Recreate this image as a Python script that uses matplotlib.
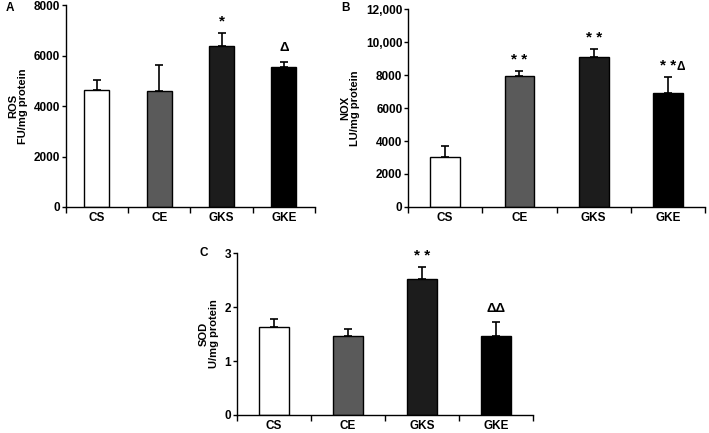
import numpy as np
import matplotlib.pyplot as plt
from matplotlib.ticker import FuncFormatter

plt.rcParams['font.family'] = ['Liberation Sans', 'DejaVu Sans']
plt.rcParams['font.weight'] = 'bold'

# data
groups = ['CS', 'CE', 'GKS', 'GKE']
colors = ['#ffffff', '#5a5a5a', '#1c1c1c', '#000000']

ros_mean = [4650, 4600, 6390, 5550]
ros_err = [400, 1020, 510, 185]
ros_stars = ['', '', '*', '']
ros_delta = ['', '', '', 'Δ']

nox_mean = [3040, 7920, 9120, 6890]
nox_err = [650, 340, 490, 970]
nox_stars = ['', '**', '**', '**']
nox_delta = ['', '', '', 'Δ']

sod_mean = [1.63, 1.46, 2.51, 1.46]
sod_err = [0.15, 0.13, 0.24, 0.27]
sod_stars = ['', '', '**', '']
sod_delta = ['', '', '', 'ΔΔ']


def draw_panel(ax, mean, err, stars, deltas, ymax, yticks, ylabel, fmt=None):
    x = np.arange(len(groups))
    ax.bar(x, mean, width=0.4, color=colors, edgecolor='black', linewidth=1.0, zorder=2)
    ax.errorbar(x, mean, yerr=[np.zeros(len(err)), err], fmt='none',
                ecolor='black', elinewidth=1.2, capsize=3, capthick=1.2, zorder=1)
    ax.set_xlim(-0.5, len(groups) - 0.5)
    ax.set_ylim(0, ymax)
    ax.set_yticks(yticks)
    if fmt:
        ax.yaxis.set_major_formatter(FuncFormatter(fmt))
    ax.set_xticks(np.arange(-0.5, len(groups), 1.0))
    ax.set_xticklabels([])
    ax.set_xticks(x, minor=True)
    ax.set_xticklabels(groups, minor=True, fontsize=8.5, fontweight='bold')
    ax.tick_params(axis='x', which='major', length=4, width=1.0, direction='out')
    ax.tick_params(axis='x', which='minor', length=0, pad=3.5)
    ax.tick_params(axis='y', length=3, width=1.0, labelsize=8.5, pad=1)
    for lab in ax.get_yticklabels():
        lab.set_fontweight('bold')
    for s in ['top', 'right']:
        ax.spines[s].set_visible(False)
    ax.spines['left'].set_linewidth(1.0)
    ax.spines['bottom'].set_linewidth(1.0)
    ax.set_ylabel(ylabel, fontsize=8, fontweight='bold', linespacing=1.0, labelpad=4)
    for xi, m, e, s, d in zip(x, mean, err, stars, deltas):
        top = m + e
        if s:
            ax.text(xi, top + ymax * 0.02, ' '.join(s), ha='center', va='bottom',
                    fontsize=11, fontweight='bold')
            if d:
                ax.text(xi + 0.12, top + ymax * 0.022, d, ha='left', va='bottom',
                        fontsize=8.5, fontweight='bold')
        elif d:
            ax.text(xi, top + ymax * 0.04, d, ha='center', va='bottom',
                    fontsize=9.5, fontweight='bold')


fig = plt.figure(figsize=(7.09, 4.33), dpi=100)

ax_a = fig.add_axes([0.0925, 0.522, 0.352, 0.466])
draw_panel(ax_a, ros_mean, ros_err, ros_stars, ros_delta, 8000,
           [0, 2000, 4000, 6000, 8000], 'ROS\nFU/mg protein')

ax_b = fig.add_axes([0.5755, 0.522, 0.419, 0.457])
draw_panel(ax_b, nox_mean, nox_err, nox_stars, nox_delta, 12000,
           [0, 2000, 4000, 6000, 8000, 10000, 12000], 'NOX\nLU/mg protein',
           fmt=lambda v, p: f'{int(v):,}' if v >= 10000 else f'{int(v)}')

ax_c = fig.add_axes([0.334, 0.0416, 0.4175, 0.374])
draw_panel(ax_c, sod_mean, sod_err, sod_stars, sod_delta, 3, [0, 1, 2, 3],
           'SOD\nU/mg protein')

fig.text(0.008, 0.982, 'A', fontsize=8.5, fontweight='bold', ha='left', va='center')
fig.text(0.481, 0.982, 'B', fontsize=8.5, fontweight='bold', ha='left', va='center')
fig.text(0.281, 0.415, 'C', fontsize=8.5, fontweight='bold', ha='left', va='center')

fig.savefig('out.png', dpi=100)
